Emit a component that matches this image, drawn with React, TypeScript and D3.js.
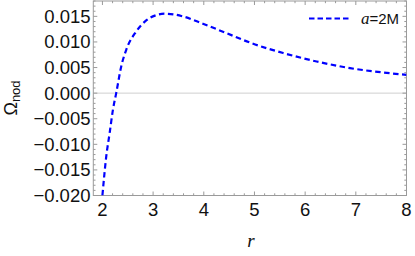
import React from "react";
import * as d3 from "d3";

const rValues = [2.0, 2.075, 2.142, 2.207, 2.272, 2.371, 2.47, 2.667, 2.864, 3.05, 3.228, 3.4, 3.589, 3.983, 4.443, 4.937, 5.568, 6.227, 6.885, 7.542, 8.0];
const omegaValues = [-0.0200, -0.01241, -0.00783, -0.00327, 0.0, 0.00521, 0.00847, 0.01205, 0.01421, 0.01520, 0.01552, 0.01540, 0.01499, 0.01356, 0.01174, 0.00978, 0.00783, 0.00618, 0.00489, 0.00403, 0.00358];
const xTicks = [2, 3, 4, 5, 6, 7, 8];
const yTicks = [-0.02, -0.015, -0.01, -0.005, 0, 0.005, 0.01, 0.015];
const legendLabel = "=2M";

const W = 415;
const H = 256;

export default function App() {
  const x = d3.scaleLinear().domain([1.82, 8]).range([93.3, 406.5]);
  const y = d3.scaleLinear().domain([-0.02, 0.018]).range([195.5, 1]);
  const pts: [number, number][] = rValues.map((r, i) => [r, omegaValues[i]]);
  const line = d3
    .line<[number, number]>()
    .x((d) => x(d[0]))
    .y((d) => y(d[1]))
    .curve(d3.curveMonotoneX);
  const fmt = d3.format(".3f");
  const xMinor = d3.range(1.8, 8.001, 0.2).filter((v) => v >= 1.82 && v <= 8.0001);
  const yMinor = d3.range(-0.02, 0.0181, 0.001);
  const frameColor = "#9a9a9a";
  const x0 = 93.3, x1 = 406.5, y0 = 195.5, y1 = 1;
  const font = "'Liberation Sans', Arial, sans-serif";
  const isMajorX = (v: number) => Math.abs(v - Math.round(v)) < 1e-6;
  const isMajorY = (v: number) => Math.abs(v / 0.005 - Math.round(v / 0.005)) < 1e-6;

  return (
    <svg width={W} height={H} style={{ position: "absolute", left: 0, top: 0 }}>
      <rect width={W} height={H} fill="#fff" />
      <defs>
        <clipPath id="plotclip">
          <rect x={x0} y={y1} width={x1 - x0} height={y0 - y1} />
        </clipPath>
      </defs>
      {/* zero line */}
      <line x1={x0} x2={x1} y1={y(0)} y2={y(0)} stroke="#cfcfcf" strokeWidth={1} />
      {/* frame */}
      <rect x={x0} y={y1} width={x1 - x0} height={y0 - y1} fill="none" stroke={frameColor} strokeWidth={1} />
      {/* x ticks */}
      {xMinor.map((v, i) => {
        const len = isMajorX(v) ? 4 : 2.2;
        return (
          <g key={"xt" + i}>
            <line x1={x(v)} x2={x(v)} y1={y0} y2={y0 - len} stroke={frameColor} />
            <line x1={x(v)} x2={x(v)} y1={y1} y2={y1 + len} stroke={frameColor} />
          </g>
        );
      })}
      {yMinor.map((v, i) => {
        const len = isMajorY(v) ? 4 : 2.2;
        return (
          <g key={"yt" + i}>
            <line x1={x0} x2={x0 + len} y1={y(v)} y2={y(v)} stroke={frameColor} />
            <line x1={x1} x2={x1 - len} y1={y(v)} y2={y(v)} stroke={frameColor} />
          </g>
        );
      })}
      {/* tick labels */}
      {xTicks.map((v) => (
        <text key={"xl" + v} x={x(v)} y={216} textAnchor="middle" fontFamily={font} fontSize={18.5} fill="#111">
          {v}
        </text>
      ))}
      {yTicks.map((v) => (
        <text key={"yl" + v} x={90.5} y={y(v) + 6.5} textAnchor="end" fontFamily={font} fontSize={18.5} fill="#111">
          {fmt(v)}
        </text>
      ))}
      {/* axis labels */}
      <text x={251} y={247} textAnchor="middle" fontFamily="'Liberation Serif', serif" fontStyle="italic" fontSize={19} fill="#111">
        r
      </text>
      <text transform="translate(17,98) rotate(-90)" textAnchor="middle" fontFamily={font} fontSize={18} fill="#111">
        Ω<tspan fontSize={13} dy={3}>nod</tspan>
      </text>
      {/* curve */}
      <path
        d={line(pts) || ""}
        fill="none"
        stroke="#0000ff"
        strokeWidth={2.2}
        strokeDasharray="5.5,3.5"
        clipPath="url(#plotclip)"
      />
      {/* legend */}
      <line x1={309} x2={351} y1={18.5} y2={18.5} stroke="#0000ff" strokeWidth={2.2} strokeDasharray="5.5,3" />
      <text x={361} y={24} fontFamily={font} fontSize={15} fill="#111">
        <tspan fontFamily="'Liberation Serif', serif" fontStyle="italic" fontSize={17}>a</tspan>
        {legendLabel}
      </text>
    </svg>
  );
}
